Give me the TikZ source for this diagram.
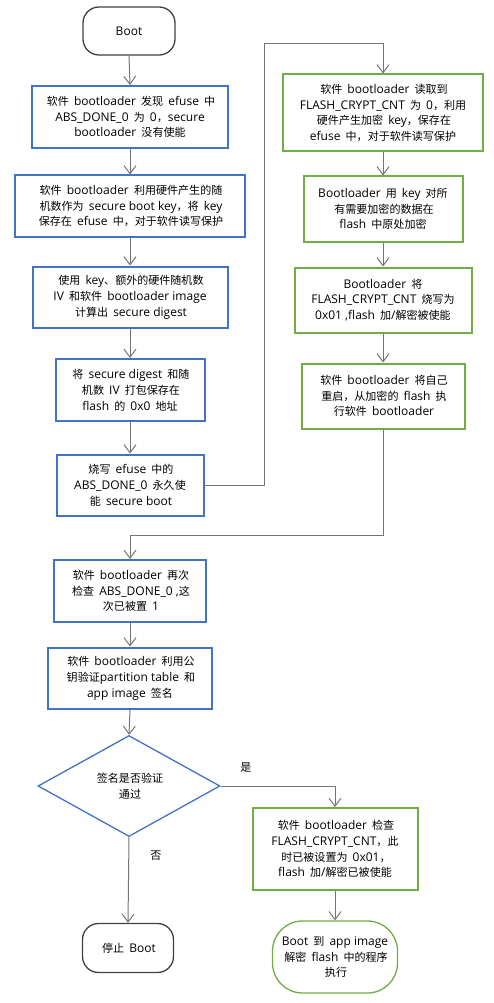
\documentclass[tikz,border=0pt]{standalone}
\usepackage{fontspec}
\setmainfont{Open Sans}
\newfontfamily\cjkfont{Noto Sans CJK SC}[Scale=0.92]
\newfontfamily\latinfont{Open Sans}
\usetikzlibrary{arrows.meta,shapes.geometric}

% switch to the CJK family for Chinese characters
\XeTeXinterchartokenstate=1
\newXeTeXintercharclass\cjkclass
\makeatletter
\count@="4E00
\loop\XeTeXcharclass\count@=\cjkclass\advance\count@ 1 \ifnum\count@<"A000\repeat
\makeatother
\XeTeXcharclass"3001=\cjkclass
\XeTeXcharclass"FF0C=\cjkclass
\XeTeXinterchartoks 0 \cjkclass={\cjkfont}
\XeTeXinterchartoks 4095 \cjkclass={\hskip2pt\relax\cjkfont}
\XeTeXinterchartoks \cjkclass 0={\latinfont}
\XeTeXinterchartoks \cjkclass 4095={\latinfont\hskip2pt\relax}

\definecolor{stepblue}{HTML}{4472C4}
\definecolor{stepgreen}{HTML}{70AD47}
\definecolor{flowgray}{HTML}{757575}

\begin{document}
\begin{tikzpicture}[x=1pt,y=-1pt,
    every node/.style={font=\fontsize{12}{15.8}\selectfont,align=center,inner sep=0pt},
    bluebox/.style={draw=stepblue,line width=2pt},
    greenbox/.style={draw=stepgreen,line width=2pt},
    endbox/.style={draw=black!75,line width=1.3pt,rounded corners=16pt},
    flow/.style={draw=flowgray,line width=1pt,-{Straight Barb[length=8pt,width=12pt]}}]
    \useasboundingbox (0,0) rectangle (494,1003);
    % left column
    \node[endbox,minimum width=92pt,minimum height=48pt] (boot) at (129,31) {Boot};
    \node[bluebox,minimum width=196pt,minimum height=62pt] (b1) at (130,117) {软件 bootloader 发现 efuse 中\\ABS\_DONE\_0 为 0，secure\\bootloader 没有使能};
    \node[bluebox,minimum width=230pt,minimum height=61pt] (b2) at (130,206) {软件 bootloader 利用硬件产生的随\\机数作为 secure boot key，将 key\\保存在 efuse 中，对于软件读写保护};
    \node[bluebox,minimum width=195pt,minimum height=61pt] (b3) at (130,297) {使用 key、额外的硬件随机数\\IV 和软件 bootloader image\\计算出 secure digest};
    \node[bluebox,minimum width=149pt,minimum height=62pt] (b4) at (130,390) {将 secure digest 和随\\机数 IV 打包保存在\\flash 的 0x0 地址};
    \node[bluebox,minimum width=147pt,minimum height=61pt] (b5) at (130,485) {烧写 efuse 中的\\ABS\_DONE\_0 永久使\\能 secure boot};
    \node[bluebox,minimum width=152pt,minimum height=62pt] (b6) at (130,591) {软件 bootloader 再次\\检查 ABS\_DONE\_0 ,这\\次已被置 1};
    \node[bluebox,minimum width=164pt,minimum height=61pt] (b7) at (130,678) {软件 bootloader 利用公\\钥验证partition table 和\\app image 签名};
    \node[diamond,draw=stepblue,line width=1.3pt,minimum width=182pt,minimum height=101pt] (check) at (129,786) {签名是否验证\\通过};
    \node[endbox,minimum width=91pt,minimum height=49pt] (stop) at (128,948) {停止 Boot};
    % right column
    \node[greenbox,minimum width=200pt,minimum height=77pt] (g1) at (383,113) {软件 bootloader 读取到\\FLASH\_CRYPT\_CNT 为 0，利用\\硬件产生加密 key，保存在\\efuse 中，对于软件读写保护};
    \node[greenbox,minimum width=159pt,minimum height=65pt] (g2) at (383,209) {Bootloader 用 key 对所\\有需要加密的数据在\\flash 中原处加密};
    \node[greenbox,minimum width=177pt,minimum height=65pt] (g3) at (383,300) {Bootloader 将\\FLASH\_CRYPT\_CNT 烧写为\\0x01 ,flash 加/解密被使能};
    \node[greenbox,minimum width=163pt,minimum height=65pt] (g4) at (383,396) {软件 bootloader 将自己\\重启，从加密的 flash 执\\行软件 bootloader};
    \node[greenbox,minimum width=165pt,minimum height=82pt] (g5) at (335,849) {软件 bootloader 检查\\FLASH\_CRYPT\_CNT，此\\时已被设置为 0x01，\\flash 加/解密已被使能};
    \node[draw=stepgreen,line width=1.3pt,rounded corners=30pt,minimum width=125pt,minimum height=72pt] (run) at (335,957) {Boot 到 app image\\解密 flash 中的程序\\执行};
    % connectors
    \coordinate (up) at (264,44);
    \coordinate (down) at (130,535);
    \foreach \a/\b in {boot/b1,b1/b2,b2/b3,b3/b4,b4/b5,g1/g2,g2/g3,g3/g4,b6/b7,b7/check,g5/run}
        \draw[flow] (\a.south)--(\b.north);
    \draw[flow] (b5.east) -| (up) -| (g1.north);
    \draw[flow] (g4.south) |- (down) -- (b6.north);
    \draw[flow] (check.east) -| node[pos=0.11,above=13pt] {是} (g5.north);
    \draw[flow] (check.south) -- node[pos=0.21,right=19pt] {否} (stop.north);
  \end{tikzpicture}
\end{document}
